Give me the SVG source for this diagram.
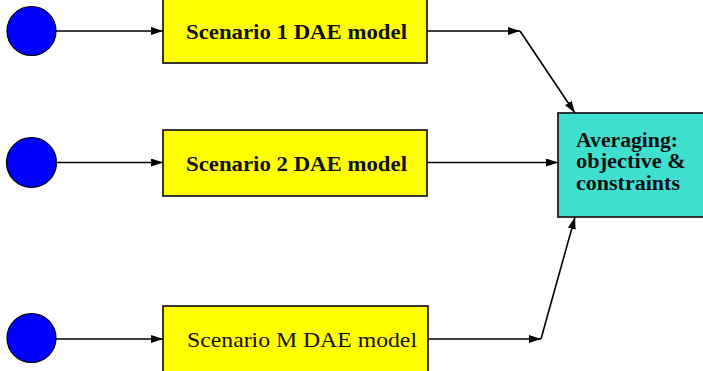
<svg xmlns="http://www.w3.org/2000/svg" width="703" height="371" viewBox="0 0 703 371">
<defs>
<marker id="ah" viewBox="0 0 12 8" refX="12" refY="4" markerWidth="12" markerHeight="8" markerUnits="userSpaceOnUse" orient="auto">
<path d="M0,0 L12,4 L0,8 Z" fill="#000"/>
</marker>
<style>
.src{fill:#0000ff;stroke:#000;stroke-width:1.2}
.dae{fill:#ffff00;stroke:#222;stroke-width:1.8}
.avg{fill:#40e0d0;stroke:#222;stroke-width:1.8}
.lbl{font-family:"Liberation Serif","DejaVu Serif",serif;font-weight:bold;font-size:20px;fill:#111}
.lblr{font-family:"Liberation Serif","DejaVu Serif",serif;font-size:21px;fill:#111}
.edge{fill:none;stroke:#000;stroke-width:1.6}
</style>
</defs>
<rect width="703" height="371" fill="#fff"/>
<g id="src1"><circle class="src" cx="31.5" cy="31" r="24.5"/></g>
<g id="src2"><circle class="src" cx="31.5" cy="162.5" r="25"/></g>
<g id="src3"><circle class="src" cx="31.5" cy="338" r="24.5"/></g>
<g id="dae1"><rect class="dae" x="163" y="-2" width="264" height="65"/>
<text class="lbl" x="186" y="39" textLength="221" lengthAdjust="spacingAndGlyphs">Scenario 1 DAE model</text></g>
<g id="dae2"><rect class="dae" x="163" y="130" width="264" height="66"/>
<text class="lbl" x="186" y="171" textLength="221" lengthAdjust="spacingAndGlyphs">Scenario 2 DAE model</text></g>
<g id="dae3"><rect class="dae" x="163" y="306" width="265" height="70"/>
<text class="lblr" x="187" y="347" textLength="230" lengthAdjust="spacingAndGlyphs">Scenario M DAE model</text></g>
<g id="avg"><rect class="avg" x="558" y="113" width="150" height="104"/>
<text class="lbl" x="576" y="147" textLength="102" lengthAdjust="spacingAndGlyphs">Averaging:</text>
<text class="lbl" x="576" y="168" textLength="110" lengthAdjust="spacingAndGlyphs">objective &amp;</text>
<text class="lbl" x="576" y="190" textLength="104" lengthAdjust="spacingAndGlyphs">constraints</text></g>
<g id="connectors">
<line class="edge" x1="56" y1="31" x2="163" y2="31" marker-end="url(#ah)"/>
<line class="edge" x1="57" y1="162.5" x2="163" y2="162.5" marker-end="url(#ah)"/>
<line class="edge" x1="56" y1="339" x2="163" y2="339" marker-end="url(#ah)"/>
<line class="edge" x1="427" y1="31" x2="520" y2="31" marker-end="url(#ah)"/>
<line class="edge" x1="520" y1="31" x2="575" y2="113" marker-end="url(#ah)"/>
<line class="edge" x1="427" y1="162.5" x2="558" y2="162.5" marker-end="url(#ah)"/>
<line class="edge" x1="428" y1="339" x2="541" y2="339" marker-end="url(#ah)"/>
<line class="edge" x1="541" y1="339" x2="575" y2="217" marker-end="url(#ah)"/>
</g>
</svg>
